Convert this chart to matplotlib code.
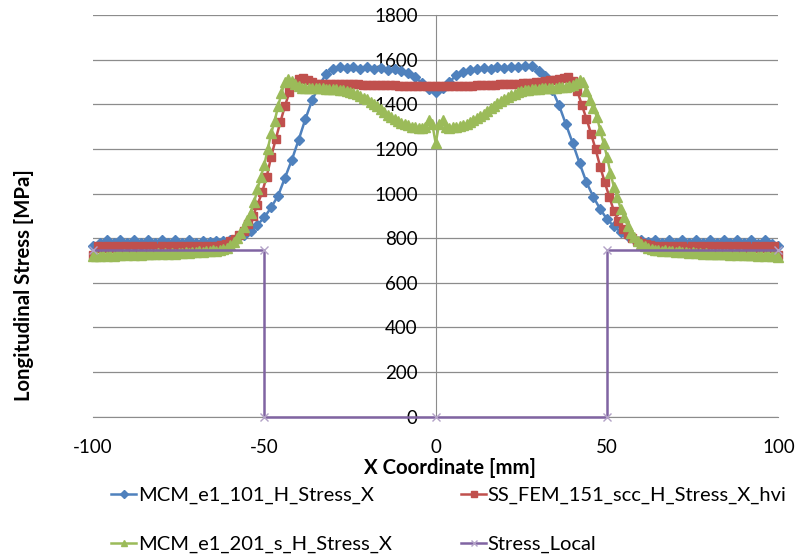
import numpy as np
import matplotlib
matplotlib.use('agg')
import matplotlib.pyplot as plt

plt.rcParams['font.family'] = ['Lato', 'DejaVu Sans']
plt.rcParams['axes.unicode_minus'] = False

# MCM_e1_101_H_Stress_X  (101 points, -100..100 mm)
x_blue = np.linspace(-100, 100, 101)
y_blue = [765, 778, 792, 778, 793, 779, 792, 778, 792, 779,
          791, 778, 791, 779, 790, 780, 789, 782, 788, 786,
          792, 801, 816, 834, 860, 893, 938, 990, 1070, 1150,
          1240, 1335, 1420, 1485, 1535, 1560, 1568, 1562, 1566, 1560,
          1565, 1558, 1562, 1555, 1556, 1548, 1542, 1522, 1495, 1470,
          1456,
          1475, 1500, 1530, 1545, 1555, 1556, 1562, 1560, 1565, 1562,
          1567, 1565, 1570, 1570, 1548, 1525, 1465, 1395, 1310, 1225,
          1135, 1050, 985, 930, 885, 853, 828, 810, 797, 790,
          784, 790, 780, 791, 779, 792, 778, 793, 778, 793,
          778, 793, 777, 793, 777, 792, 776, 791, 775, 765]

# SS_FEM_151_scc_H_Stress_X_hvi  (151 points)
x_red = np.linspace(-100, 100, 151)
y_red = [725,
         763, 755, 764, 756, 763, 755, 764, 756, 763, 755, 764, 756, 763,
         755, 764, 756, 763, 755, 764, 756, 763, 756, 764, 757, 764, 758,
         766, 770, 776, 786, 798, 815, 833, 862, 900, 950, 1005, 1075, 1165,
         1245, 1320, 1392, 1455, 1496, 1515, 1518, 1508, 1498, 1492, 1489, 1490,
         1491, 1490, 1491, 1490, 1490, 1489, 1489, 1488, 1488, 1487, 1487, 1486,
         1486, 1485, 1485, 1484, 1484, 1483, 1483, 1482, 1482, 1481, 1481,
         1480,
         1481, 1481, 1482, 1482, 1483, 1483, 1484, 1484, 1485, 1485, 1486,
         1487, 1488, 1489, 1490, 1491, 1492, 1493, 1494, 1495, 1496,
         1498, 1500, 1503, 1507, 1510, 1515, 1518, 1521, 1505, 1460, 1395,
         1335, 1268, 1198, 1120, 1050, 985, 922, 876, 842, 818, 800, 787,
         778, 772, 768, 766,
         758, 764, 757, 764, 756, 763, 755, 764, 756, 763, 755, 764, 756,
         763, 755, 764, 756, 763, 755, 764, 756, 763, 755, 764, 756, 763,
         725]

# MCM_e1_201_s_H_Stress_X  (201 points)
x_green = np.linspace(-100, 100, 201)
y_green = [718, 722, 720, 724, 721, 725, 722, 726, 723, 727, 724, 728, 725, 729,
           726, 730, 727, 731, 728, 732, 729, 733, 730, 734, 731, 735, 733, 737,
           735, 739, 737, 741, 739, 743, 741,
           745, 744, 748, 752, 758, 768, 782, 800, 823, 850, 880, 915, 960,
           1020, 1075, 1130, 1200, 1270, 1325, 1390, 1450, 1498, 1512, 1505,
           1490, 1480,
           1475, 1472, 1471, 1472, 1472, 1471, 1471, 1470, 1470, 1468, 1467,
           1465, 1462, 1458, 1455, 1450, 1444, 1438, 1430, 1422, 1412, 1400,
           1390, 1378, 1366, 1354, 1343, 1333, 1324, 1316, 1310, 1305, 1300,
           1297, 1295, 1293, 1300, 1330, 1312,
           1225,
           1312, 1330, 1300, 1294, 1296, 1298, 1302, 1307, 1313, 1320, 1328,
           1337, 1347, 1358, 1370, 1382, 1393, 1404, 1414, 1423, 1432, 1440,
           1447, 1453, 1458, 1462, 1465, 1467, 1469, 1470, 1471, 1472, 1473,
           1474, 1475, 1476, 1477, 1478, 1480,
           1485, 1496, 1508, 1500, 1460, 1420, 1385, 1345, 1285, 1225, 1165,
           1090, 1030, 985, 930, 895, 855, 825, 803, 786, 774, 764, 757, 752,
           749, 746,
           743, 745, 741, 743, 739, 741, 737, 739, 735, 737, 733, 735, 731, 733,
           729, 731, 728, 730, 727, 729, 726, 728, 725, 727, 724, 726, 723, 725,
           722, 724, 721, 723, 720, 722, 717]

# Stress_Local
x_local = [-100, -50, -50, 0, 50, 50, 100]
y_local = [745, 745, 0, 0, 0, 745, 745]

x_ticks = [-100, -50, 0, 50, 100]
y_ticks = list(range(0, 1801, 200))

fig = plt.figure(figsize=(8.08, 5.59), dpi=100)
ax = fig.add_axes([93 / 808, 142.3 / 559, 685.4 / 808, 401.7 / 559])

grid_col = '#8c8c8c'

p1, = ax.plot(x_blue, y_blue, color='#4F81BD', lw=1.8, marker='D', ms=5.5,
              mec='#4F81BD', clip_on=False, label='MCM_e1_101_H_Stress_X')
p2, = ax.plot(x_red, y_red, color='#C0504D', lw=1.8, marker='s', ms=6.3,
              mec='#C0504D', clip_on=False, label='SS_FEM_151_scc_H_Stress_X_hvi')
p3, = ax.plot(x_green, y_green, color='#9BBB59', lw=1.8, marker='^', ms=7,
              mec='#9BBB59', clip_on=False, label='MCM_e1_201_s_H_Stress_X')
p4, = ax.plot(x_local, y_local, color='#8064A2', lw=1.8, marker='x', ms=6,
              mew=1.0, mec='#b3a2c7', clip_on=False, label='Stress_Local')

ax.set_xlim(-100, 100)
ax.set_ylim(0, 1800)
ax.set_xticks(x_ticks)
ax.set_yticks(y_ticks)
ax.yaxis.grid(True, color=grid_col, lw=0.9)
ax.set_axisbelow(True)

for s in ['top', 'right']:
    ax.spines[s].set_visible(False)
ax.spines['left'].set_position(('data', 0))
ax.spines['left'].set_color(grid_col)
ax.spines['left'].set_zorder(0.5)
ax.spines['bottom'].set_color(grid_col)
ax.spines['bottom'].set_zorder(0.5)

ax.tick_params(axis='y', length=0, pad=13, labelsize=13.5)
ax.tick_params(axis='x', length=0, pad=16, labelsize=13.5)

fig.text(450 / 808, 1 - 468 / 559, 'X Coordinate [mm]', ha='center', va='center',
         fontsize=14.7, fontweight='bold')
fig.text(24 / 808, 1 - 285 / 559, 'Longitudinal Stress [MPa]', ha='center', va='center',
         rotation=90, fontsize=14.6, fontweight='bold')

leg_kw = dict(loc='upper left', frameon=False, fontsize=14.5, handlelength=1.25,
              handletextpad=0.08, labelspacing=1.55, borderaxespad=0, borderpad=0,
              markerscale=0.7)
leg1 = fig.legend([p1, p3], [p1.get_label(), p3.get_label()],
                  bbox_to_anchor=(111 / 808, 1 - 487 / 559), **leg_kw)
leg2 = fig.legend([p2, p4], [p2.get_label(), p4.get_label()],
                  bbox_to_anchor=(461 / 808, 1 - 487 / 559), **leg_kw)

plt.savefig('out.png', dpi=100)
